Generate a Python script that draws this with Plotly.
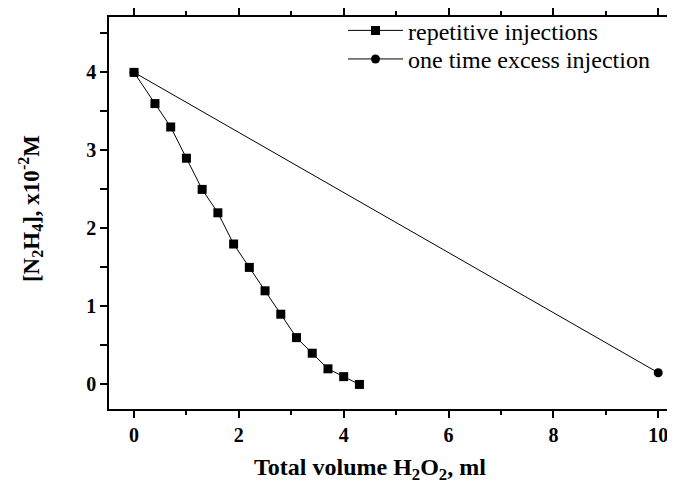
import plotly.graph_objects as go

rep_x = [0, 0.4, 0.7, 1.0, 1.3, 1.6, 1.9, 2.2, 2.5, 2.8, 3.1, 3.4, 3.7, 4.0, 4.3]
rep_y = [4.0, 3.6, 3.3, 2.9, 2.5, 2.2, 1.8, 1.5, 1.2, 0.9, 0.6, 0.4, 0.2, 0.1, 0.0]
one_x = [0, 10]
one_y = [4.0, 0.15]

x_ticks = [0, 2, 4, 6, 8, 10]
y_ticks = [0, 1, 2, 3, 4]

FONT = "Liberation Serif"

# page is shown with an 8px body margin; figure sized to fit the window
W, H = 667, 479
L, R, T, B = 101, 0, 3, 78
PW, PH = W - L - R, H - T - B


def px_to_paper_x(sx):
    return (sx - 8 - L) / PW


def px_to_paper_y(sy):
    return (H - B - (sy - 8)) / PH


fig = go.Figure()
fig.add_trace(go.Scatter(
    x=rep_x, y=rep_y, mode="lines+markers", name="repetitive injections",
    line=dict(color="black", width=1),
    marker=dict(symbol="square", size=9, color="black"),
    legend="legend",
))
fig.add_trace(go.Scatter(
    x=one_x, y=one_y, mode="lines+markers", name="one time excess injection",
    line=dict(color="black", width=1),
    marker=dict(symbol="circle", size=9, color="black"),
    legend="legend2",
))

axis_common = dict(
    showgrid=False, zeroline=False, showline=True, linecolor="black", linewidth=1.5,
    ticks="outside", tickcolor="black", tickwidth=1.5,
    tickfont=dict(family=FONT, size=20, color="black", weight="bold"),
)

fig.update_xaxes(
    **axis_common, range=[-0.477, 10.32], tickvals=x_ticks,
    ticktext=[str(v) for v in x_ticks], ticklen=7, mirror="ticks",
    minor=dict(dtick=1, ticks="outside", ticklen=4, tickcolor="black", tickwidth=1.5),
)
fig.update_yaxes(
    **axis_common, range=[-0.315, 4.71], tickvals=y_ticks,
    ticktext=[str(v) for v in y_ticks], ticklen=7,
    minor=dict(dtick=0.5, ticks="outside", ticklen=7, tickcolor="black", tickwidth=1.5),
)

fig.add_annotation(
    text="Total volume H<sub>2</sub>O<sub>2</sub>, ml", xref="paper", yref="paper",
    x=px_to_paper_x(370), y=px_to_paper_y(470), xanchor="center", yanchor="middle",
    showarrow=False, font=dict(family=FONT, size=24, color="black", weight="bold"),
)
fig.add_annotation(
    text="[N<sub>2</sub>H<sub>4</sub>], x10<sup>-2</sup>M", xref="paper", yref="paper",
    x=px_to_paper_x(30), y=px_to_paper_y(206), xanchor="center", yanchor="middle",
    textangle=-90, showarrow=False,
    font=dict(family=FONT, size=23, color="black", weight="bold"),
)

legend_common = dict(
    xanchor="left", yanchor="middle", bgcolor="rgba(0,0,0,0)",
    font=dict(family=FONT, size=24, color="black"), itemwidth=55,
)

fig.update_layout(
    width=W, height=H,
    margin=dict(l=L, r=R, t=T, b=B),
    font=dict(family=FONT, color="black"),
    plot_bgcolor="white", paper_bgcolor="white",
    showlegend=True,
    legend=dict(x=px_to_paper_x(343), y=px_to_paper_y(25), **legend_common),
    legend2=dict(x=px_to_paper_x(343), y=px_to_paper_y(54), **legend_common),
)

fig.write_html("out.html")
